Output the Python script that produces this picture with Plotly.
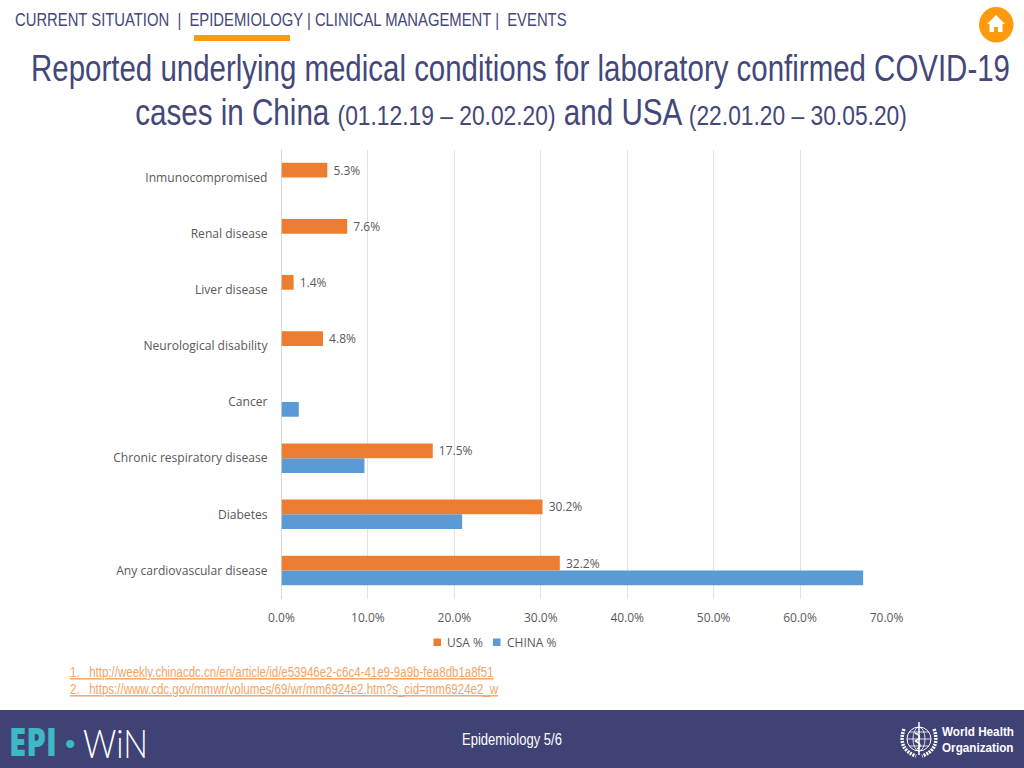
import json
import plotly.graph_objects as go

categories = ["Any cardiovascular disease", "Diabetes", "Chronic respiratory disease", "Cancer",
              "Neurological disability", "Liver disease", "Renal disease", "Inmunocompromised"]
usa_values = [32.2, 30.2, 17.5, None, 4.8, 1.4, 7.6, 5.3]
china_values = [67.3, 20.9, 9.6, 2.0, None, None, None, None]
tick_values = [0, 10, 20, 30, 40, 50, 60, 70]
tick_labels = ["0.0%", "10.0%", "20.0%", "30.0%", "40.0%", "50.0%", "60.0%", "70.0%"]

W, H = 1024, 768
NAVY = "#43477A"
ORANGE = "#FF9A0E"
USA = "#ED7D31"
CHINA = "#5B9BD5"
GREY = "#595959"
NARROW = "Liberation Sans, Arial, sans-serif"
CHART = "Open Sans, sans-serif"

def X(p): return p / W
def Y(p): return 1 - p / H

fig = go.Figure()
fig.add_bar(name="CHINA %", y=categories, x=china_values, orientation="h", showlegend=False,
            marker=dict(color=CHINA, line_width=0), cliponaxis=False)
usa_text = [None if v is None else f"\u00a0{v:.1f}%" for v in usa_values]
fig.add_bar(name="USA %", y=categories, x=usa_values, orientation="h", showlegend=False,
            marker=dict(color=USA, line_width=0), text=usa_text, textposition="outside",
            constraintext="none", textfont=dict(family=CHART, size=12, color=GREY), cliponaxis=False)

def shape(**kw):
    return dict(xref="paper", yref="paper", **kw)

def curve(x0, y0, cx, cy, x1, y1, **kw):
    p = f"M {X(x0):.5f},{Y(y0):.5f} Q {X(cx):.5f},{Y(cy):.5f} {X(x1):.5f},{Y(y1):.5f}"
    return shape(type="path", path=p, **kw)

shapes = [
    shape(type="rect", x0=0, x1=1, y0=Y(768), y1=Y(710), fillcolor="#3F4274", line_width=0, layer="below"),
    shape(type="rect", x0=X(194), x1=X(290), y0=Y(41), y1=Y(35), fillcolor=ORANGE, line_width=0),
    shape(type="circle", x0=X(979), x1=X(1013.5), y0=Y(42.5), y1=Y(7), fillcolor=ORANGE, line_width=0),
    shape(type="rect", x0=X(433.5), x1=X(441), y0=Y(646), y1=Y(638.5), fillcolor=USA, line_width=0),
    shape(type="rect", x0=X(493), x1=X(500.5), y0=Y(646), y1=Y(638.5), fillcolor=CHINA, line_width=0),
]
house = [(996, 15), (1005, 24), (1002.5, 24), (1002.5, 32), (998, 32), (998, 27), (994, 27),
         (994, 32), (989.5, 32), (989.5, 24), (987, 24)]
path = "M " + " L ".join(f"{X(a):.5f},{Y(b):.5f}" for a, b in house) + " Z"
shapes.append(shape(type="path", path=path, fillcolor="white", line_width=0))
# WHO emblem: globe, staff and laurel
thin = dict(color="white", width=0.8)
leaf = dict(color="white", width=3.5, dash="2px,1px")
shapes += [
    shape(type="circle", x0=X(907), x1=X(931), y0=Y(751), y1=Y(727), line=dict(color="white", width=1)),
    shape(type="circle", x0=X(913), x1=X(925), y0=Y(751), y1=Y(727), line=thin),
    shape(type="line", x0=X(907), x1=X(931), y0=Y(739), y1=Y(739), line=thin),
    shape(type="line", x0=X(909), x1=X(929), y0=Y(732), y1=Y(732), line=thin),
    shape(type="line", x0=X(909), x1=X(929), y0=Y(746), y1=Y(746), line=thin),
    shape(type="line", x0=X(919), x1=X(919), y0=Y(755), y1=Y(722), line=dict(color="white", width=1.5)),
    curve(915, 733, 924, 737, 915, 741, line=dict(color="white", width=1.4)),
    curve(915, 741, 924, 745, 917, 749, line=dict(color="white", width=1.4)),
    curve(904, 729, 897, 749, 916, 756, line=leaf),
    curve(934, 729, 941, 749, 922, 756, line=leaf),
]

def note(text, x, y, size, color, family=NARROW, anchor="left", weight=None):
    font = dict(family=family, size=size, color=color)
    if weight:
        font["weight"] = weight
    return dict(text=text, x=X(x), y=Y(y), xref="paper", yref="paper", showarrow=False,
                xanchor=anchor, yanchor="middle", align=anchor, font=font)

small = '<span style="font-size:28.5px">%s</span>'
# each text with the horizontal extent it takes in the reference (the reference font is a condensed one)
texts = [
    (note("CURRENT SITUATION  |  EPIDEMIOLOGY | CLINICAL MANAGEMENT |  EVENTS", 15, 19, 18.5, NAVY), (15, 567)),
    (note("Reported underlying medical conditions for laboratory confirmed COVID-19", 520, 68.5, 37, NAVY, anchor="center"), (31, 1010)),
    (note("cases in China " + small % "(01.12.19 – 20.02.20)" + " and USA " + small % "(22.01.20 – 30.05.20)",
          521, 112, 37, NAVY, anchor="center"), (135, 907)),
    (note("<u>1.   http://weekly.chinacdc.cn/en/article/id/e53946e2-c6c4-41e9-9a9b-fea8db1a8f51</u>", 70, 672, 14.5, "#F0A468"), (70, 494)),
    (note("<u>2.   https://www.cdc.gov/mmwr/volumes/69/wr/mm6924e2.htm?s_cid=mm6924e2_w</u>", 70, 689, 14.5, "#F0A468"), (70, 499)),
    (note("Epidemiology 5/6", 462, 739, 16.5, "white"), (462, 562)),
    (note("EPI", 8, 741, 38, "#3DB8C4", family="Open Sans, sans-serif", weight=800), (9, 57)),
    (note("•", 62.5, 743, 30, "#3DB8C4"), None),
    (note("WiN", 83, 743, 39, "white", family="Lato, sans-serif", weight=300), (83, 148)),
    (note("World Health<br>Organization", 942, 740, 12, "white", weight=700), (942, 1014)),
    (note("USA %", 445, 642, 12, GREY, family=CHART), None),
    (note("CHINA %", 504.5, 642, 12, GREY, family=CHART), None),
]
annotations = [t[0] for t in texts]
extents = [t[1] for t in texts]

fig.update_layout(
    width=W, height=H, autosize=False,
    margin=dict(l=0, r=0, t=0, b=0),
    paper_bgcolor="white", plot_bgcolor="white",
    barmode="group", bargap=0.475, bargroupgap=0, showlegend=False,
    font=dict(family=CHART, size=12, color=GREY),
    xaxis=dict(domain=[X(281.5), X(886.5)], range=[0, 70], tickvals=tick_values, ticktext=tick_labels,
               showgrid=True, gridcolor="#E3E3E3", gridwidth=1, zeroline=True, zerolinecolor="#D9D9D9",
               zerolinewidth=1, showline=False, ticks="", tickfont=dict(size=12, color=GREY),
               automargin=False, ticklabelstandoff=10),
    yaxis=dict(domain=[Y(598.5), Y(149.5)], type="category", categoryorder="array", categoryarray=categories,
               showgrid=False, showline=False, ticks="", ticklabelstandoff=13,
               tickfont=dict(size=12.1, color=GREY), automargin=False),
    shapes=shapes, annotations=annotations,
)

post = """
document.body.style.margin='0';document.body.style.overflow='hidden';
var ext=%s;
document.querySelectorAll('.annotation').forEach(function(g){
  var e=ext[+g.getAttribute('data-index')]; if(!e) return;
  var t=g.querySelector('.annotation-text'); var b=t.getBBox(); var r=t.getBoundingClientRect();
  var dx=r.left-b.x; var k=(e[1]-e[0])/b.width;
  t.setAttribute('transform','translate('+(e[0]-dx-k*b.x)+',0) scale('+k+',1)');
});
""" % json.dumps(extents)
fig.write_html("out.html", config={"displayModeBar": False}, post_script=post)
